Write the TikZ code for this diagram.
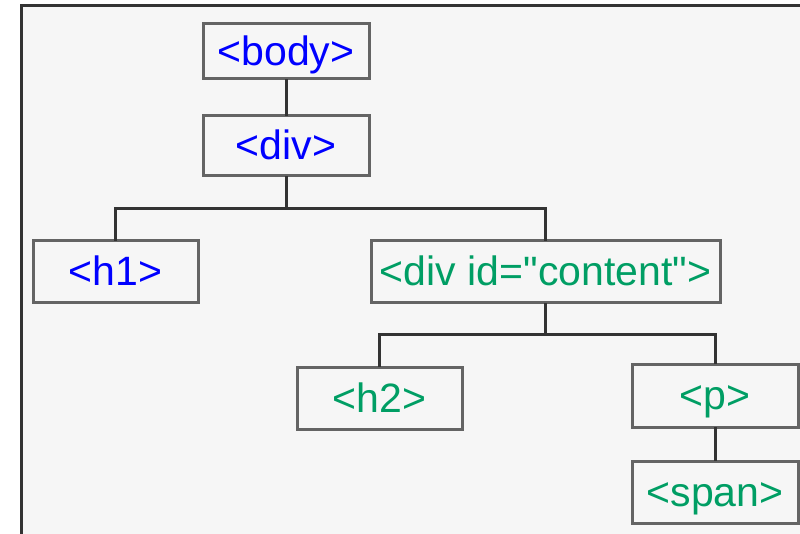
\documentclass[tikz,border=0pt]{standalone}
\usepackage{fontspec}
\usepackage{tikz}
\usepackage{xcolor}
\newfontfamily\tagfont{Liberation Sans}
\definecolor{tagblue}{RGB}{0,0,255}
\definecolor{taggreen}{RGB}{0,158,100}
\definecolor{boxgray}{RGB}{100,100,100}
\definecolor{linegray}{RGB}{51,51,51}
\definecolor{panelgray}{RGB}{246,246,246}
\begin{document}
\begin{tikzpicture}[line cap=rect,line join=miter,x=1pt,y=-1pt,
    tagbox/.style={draw=boxgray,line width=3pt,fill=panelgray,inner sep=0pt,
        minimum width=166pt,minimum height=62pt,
        font=\tagfont\fontsize{41}{49}\selectfont,text height=29pt,text depth=1pt},
    outer/.style={tagbox,text=tagblue},
    inner/.style={tagbox,text=taggreen},
    link/.style={draw=linegray,line width=3pt}]
                \useasboundingbox (0,0) rectangle (800,534);
                \fill [panelgray] (21,6) rectangle (800,534);
                \draw [linegray,line width=3pt] (21,534)-- (21,6)-- (800,6);
                % tree of tags
                \node [outer,minimum height=55pt] (body) at (286,51.5) {<body>};
                \node [outer,minimum height=60pt] (div) at (286,146) {<div>};
                \node [outer,minimum width=165pt] (h1) at (115.5,272) {<h1>};
                \node [inner,minimum width=349pt] (content) at (545.5,272) {<div id="content">};
                \node [inner,minimum width=165pt] (h2) at (379.5,398) {<h2>};
                \node [inner,minimum height=63pt] (p) at (715,395.5) {<p>};
                \node [inner] (span) at (715,492) {<span>};
                \coordinate (fork1) at (286,209);
                \coordinate (fork2) at (545.5,335);
                \draw [link] (body)-- (div);
                \draw [link] (div)-- (fork1);
                \draw [link] (h1) |- (fork1) -| (content);
                \draw [link] (content)-- (fork2);
                \draw [link] (h2) |- (fork2) -| (p);
                \draw [link] (p)-- (span);
\end{tikzpicture}
\end{document}
